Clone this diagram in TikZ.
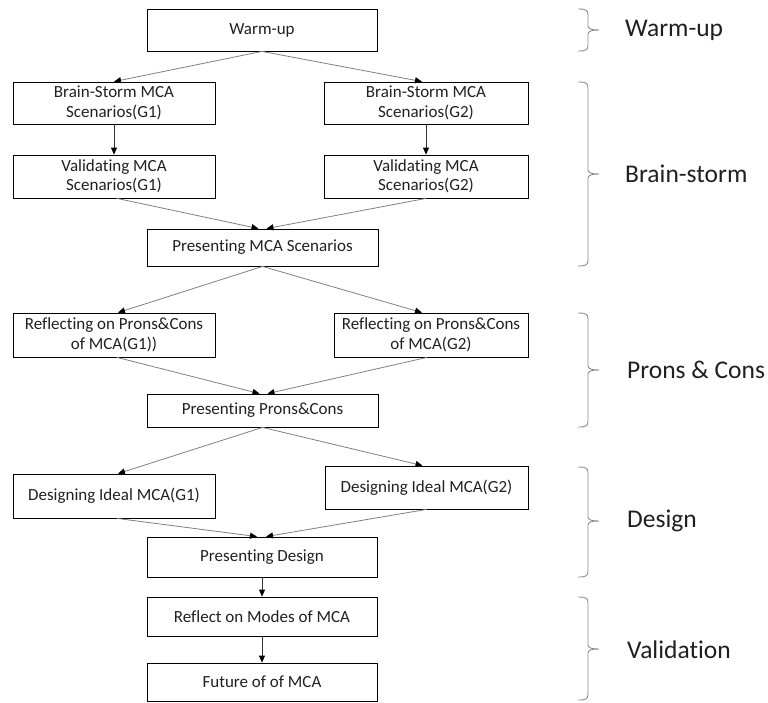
\documentclass[tikz,border=0pt]{standalone}
\usepackage{fontspec}
\setmainfont{Carlito}[Ligatures=NoCommon]
\usetikzlibrary{arrows.meta}
\definecolor{lineg}{HTML}{808080}
\definecolor{braceg}{HTML}{8C8C8C}
\definecolor{txt}{HTML}{202020}
\begin{document}
\begin{tikzpicture}[x=1pt,y=-1pt,
  box/.style={draw=black,line width=0.8pt,inner sep=0pt,align=center,text=txt,
    font=\fontsize{17}{19.5}\selectfont},
  arr/.style={draw=lineg,line width=0.8pt,-{Triangle[length=7pt,width=6pt,color=black]}},
  varr/.style={draw=black!80,line width=0.8pt,-{Triangle[length=7pt,width=6pt,color=black]}},
  lab/.style={anchor=west,inner sep=0pt,text=txt,font=\fontsize{25.5}{30}\selectfont},
  brc/.style={draw=braceg,line width=0.9pt}]
\useasboundingbox (0,0) rectangle (768,702);
% boxes
\node[box,minimum width=230pt,minimum height=42pt] (warm) at (262,30) {Warm-up};
\node[box,minimum width=202pt,minimum height=42pt] (bs1) at (114,103) {Brain-Storm MCA\\Scenarios(G1)};
\node[box,minimum width=204pt,minimum height=42pt] (bs2) at (426,103) {Brain-Storm MCA\\Scenarios(G2)};
\node[box,minimum width=202pt,minimum height=43pt] (val1) at (114,176.5) {Validating MCA\\Scenarios(G1)};
\node[box,minimum width=204pt,minimum height=43pt] (val2) at (426,176.5) {Validating MCA\\Scenarios(G2)};
\node[box,minimum width=231pt,minimum height=37pt] (pres1) at (262.5,247.5) {Presenting MCA Scenarios};
\node[box,minimum width=202pt,minimum height=44pt] (ref1) at (114,335) {Reflecting on Prons\&Cons\\of MCA(G1))};
\node[box,minimum width=194pt,minimum height=44pt] (ref2) at (431,335) {Reflecting on Prons\&Cons\\of MCA(G2)};
\node[box,minimum width=231pt,minimum height=33pt] (pres2) at (262.5,410.5) {Presenting Prons\&Cons};
\node[box,minimum width=202pt,minimum height=44pt] (des1) at (114,496) {Designing Ideal MCA(G1)};
\node[box,minimum width=203pt,minimum height=43pt] (des2) at (426.5,487.5) {Designing Ideal MCA(G2)};
\node[box,minimum width=230pt,minimum height=40pt] (pres3) at (262,557) {Presenting Design};
\node[box,minimum width=230pt,minimum height=39pt] (refm) at (262,616.5) {Reflect on Modes of MCA};
\node[box,minimum width=230pt,minimum height=38pt] (fut) at (262,682) {Future of of MCA};
% connectors
\draw[arr] (warm.south) -- (bs1.north);
\draw[arr] (warm.south) -- ([xshift=-4pt]bs2.north);
\draw[varr] (bs1.south) -- (val1.north);
\draw[varr] (bs2.south) -- (val2.north);
\draw[arr] ([xshift=3pt]val1.south) -- ([xshift=-4pt]pres1.north);
\draw[arr] (val2.south) -- ([xshift=4pt]pres1.north);
\draw[arr] (pres1.south) -- ([xshift=4pt]ref1.north);
\draw[arr] (pres1.south) -- ([xshift=-9pt]ref2.north);
\draw[arr] ([xshift=3pt]ref1.south) -- ([xshift=-3pt]pres2.north);
\draw[arr] ([xshift=-4pt]ref2.south) -- ([xshift=5pt]pres2.north);
\draw[arr] (pres2.south) -- ([xshift=4pt]des1.north);
\draw[arr] (pres2.south) -- ([xshift=-4pt]des2.north);
\draw[arr] ([xshift=3pt]des1.south) -- ([xshift=-5pt]pres3.north);
\draw[arr] (des2.south) -- ([xshift=4pt]pres3.north);
\draw[varr] (pres3.south) -- (refm.north);
\draw[varr] (refm.south) -- (fut.north);
% braces
\foreach \ya/\yb/\ym in {9/51/30, 82/266/174, 313/427/370, 467/577/521, 597/700/649}{
  \draw[brc] (578,\ya) .. controls (586,\ya) and (588,\ya+1) .. (588,\ya+6)
    -- (588,\ym-4) .. controls (588,\ym-1) and (592,\ym) .. (599,\ym)
    .. controls (592,\ym) and (588,\ym+1) .. (588,\ym+4)
    -- (588,\yb-6) .. controls (588,\yb-1) and (586,\yb) .. (578,\yb);
}
% labels
\node[lab] (l1) at (625,30) {Warm-up};
\node[lab] (l2) at (625,174) {Brain-storm};
\node[lab] (l3) at (627,370) {Prons \& Cons};
\node[lab] (l4) at (627,521) {Design};
\node[lab] (l5) at (627,650) {Validation};
\end{tikzpicture}
\end{document}
